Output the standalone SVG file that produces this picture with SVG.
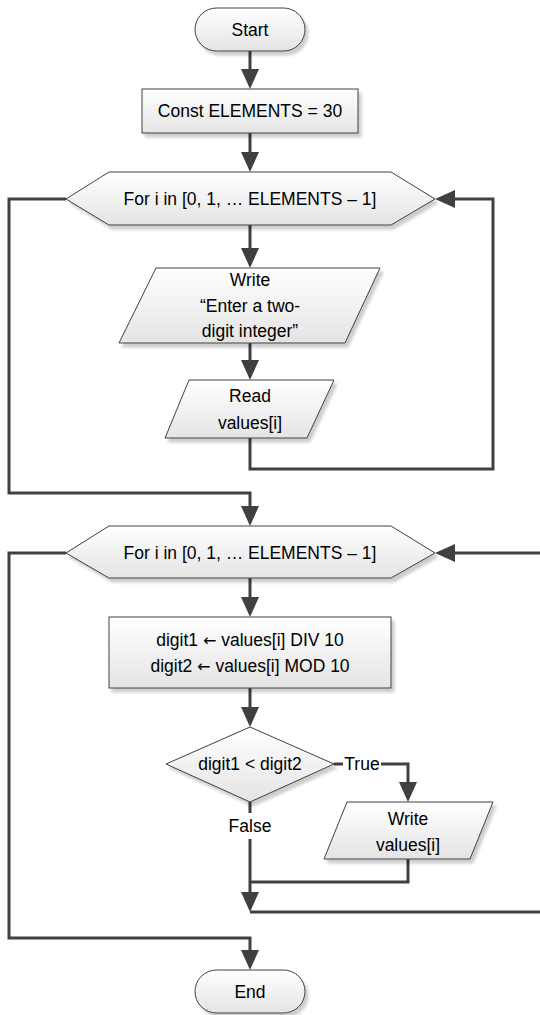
<svg xmlns="http://www.w3.org/2000/svg" width="540" height="1015" viewBox="0 0 540 1015">
<style>
.shape{fill:url(#g);stroke:#404040;stroke-width:1;filter:url(#sh)}
.t{font-family:"Liberation Sans",Arial,sans-serif;font-size:17.5px;fill:#000;text-anchor:middle}
.ar{font-family:"DejaVu Sans",sans-serif;font-size:16px}
.c{fill:none;stroke:#404040;stroke-width:3}
.a{marker-end:url(#ah)}
</style>
<defs>
<linearGradient id="g" x1="0" y1="0" x2="0" y2="1">
<stop offset="0" stop-color="#ffffff"/>
<stop offset="1" stop-color="#e4e4e4"/>
</linearGradient>
<filter id="sh" x="-10%" y="-10%" width="130%" height="140%">
<feGaussianBlur in="SourceAlpha" stdDeviation="1.5"/>
<feOffset dx="3" dy="4" result="b"/>
<feComponentTransfer><feFuncA type="linear" slope="0.2"/></feComponentTransfer>
<feMerge><feMergeNode/><feMergeNode in="SourceGraphic"/></feMerge>
</filter>
<marker id="ah" markerUnits="userSpaceOnUse" markerWidth="20" markerHeight="20" viewBox="0 0 20 20" refX="10" refY="10" orient="auto">
<path d="M0,1 L20,10 L0,19 z" fill="#404040"/>
</marker>
</defs>
<g id="connectors">
<path class="c a" d="M250,51 V79"/>
<path class="c a" d="M250,133 V162"/>
<path class="c a" d="M250,225 V258"/>
<path class="c a" d="M250,343 V370"/>
<path class="c a" d="M250,438 V469 H493 V199 H445"/>
<path class="c a" d="M66,199 H9 V493 H250 V516"/>
<path class="c a" d="M250,578 V607"/>
<path class="c a" d="M250,688 V717"/>
<path class="c" d="M334,764 H343"/>
<path class="c a" d="M381,764 H408 V792"/>
<path class="c" d="M408,859 V882 H250"/>
<path class="c" d="M250,802 V813"/>
<path class="c a" d="M250,839 V902"/>
<path class="c a" d="M250,912 H550 V553 H445"/>
<path class="c a" d="M66,553 H9 V938 H250 V960"/>
<text class="t" x="362" y="764" dy="0.35em">True</text>
<text class="t" x="250" y="826" dy="0.35em">False</text>
</g>
<g id="start">
<rect class="shape" x="195" y="8" width="110" height="43" rx="21.5"/>
<text class="t" x="250" y="30" dy="0.35em">Start</text>
</g>
<g id="const">
<rect class="shape" x="142" y="89" width="216" height="44"/>
<text class="t" x="250" y="111" dy="0.35em">Const ELEMENTS = 30</text>
</g>
<g id="for1">
<polygon class="shape" points="66,199 109,172 391,172 435,199 391,225 109,225"/>
<text class="t" x="250" y="199" dy="0.35em">For i in [0, 1, … ELEMENTS – 1]</text>
</g>
<g id="write1">
<polygon class="shape" points="156,268 380,268 345,343 119,343"/>
<text class="t" x="250" y="280" dy="0.35em">Write</text>
<text class="t" x="250" y="306" dy="0.35em">“Enter a two-</text>
<text class="t" x="250" y="331" dy="0.35em">digit integer”</text>
</g>
<g id="read">
<polygon class="shape" points="189,380 334,380 307,438 165,438"/>
<text class="t" x="250" y="396" dy="0.35em">Read</text>
<text class="t" x="250" y="423" dy="0.35em">values[i]</text>
</g>
<g id="for2">
<polygon class="shape" points="66,553 109,526 391,526 435,553 391,578 109,578"/>
<text class="t" x="250" y="553" dy="0.35em">For i in [0, 1, … ELEMENTS – 1]</text>
</g>
<g id="assign">
<rect class="shape" x="109" y="617" width="282" height="71"/>
<text class="t" x="250" y="640" dy="0.35em">digit1 <tspan class="ar">←</tspan> values[i] DIV 10</text>
<text class="t" x="250" y="666" dy="0.35em">digit2 <tspan class="ar">←</tspan> values[i] MOD 10</text>
</g>
<g id="decision">
<polygon class="shape" points="250,727 334,764 250,802 166,764"/>
<text class="t" x="250" y="764" dy="0.35em">digit1 &lt; digit2</text>
</g>
<g id="write2">
<polygon class="shape" points="347,802 493,802 470,859 324,859"/>
<text class="t" x="408" y="819" dy="0.35em">Write</text>
<text class="t" x="408" y="845" dy="0.35em">values[i]</text>
</g>
<g id="end">
<rect class="shape" x="195" y="970" width="110" height="43" rx="21.5"/>
<text class="t" x="250" y="992" dy="0.35em">End</text>
</g>
</svg>
